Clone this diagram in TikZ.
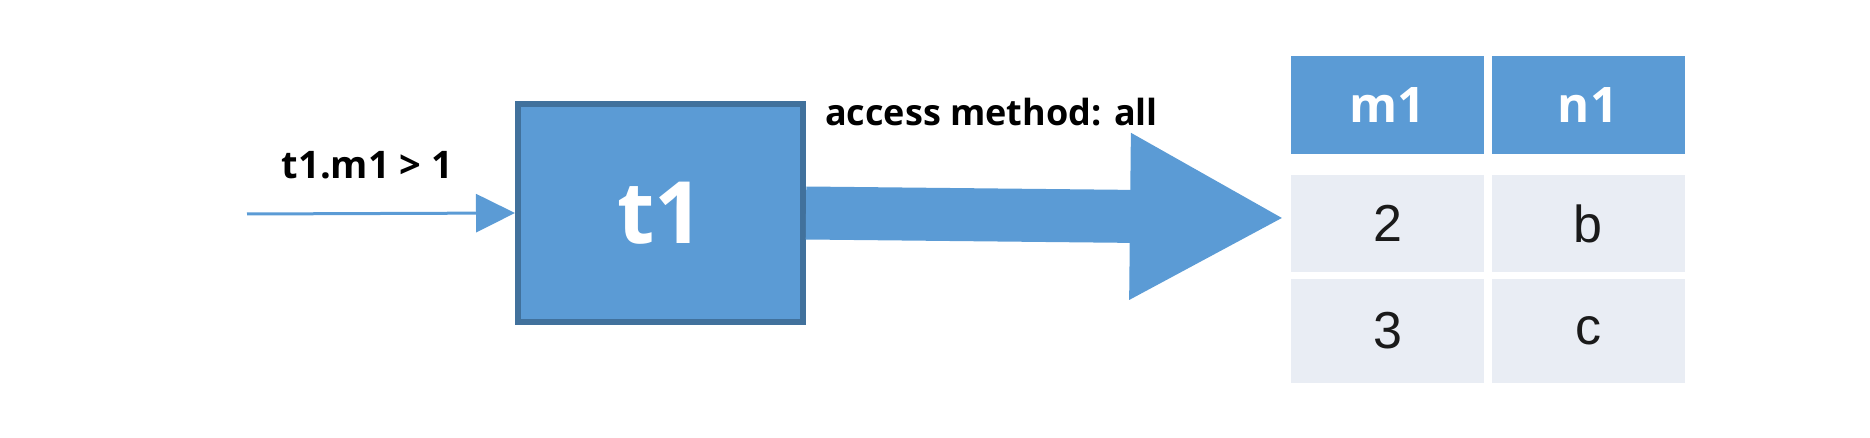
\documentclass[tikz,border=0pt]{standalone}
\usepackage{fontspec}
\setmainfont{Open Sans}
\newfontfamily\cellfont{Liberation Sans}
\usetikzlibrary{arrows.meta, positioning}
\definecolor{blu}{HTML}{5B9BD5}
\definecolor{bord}{HTML}{41719C}
\definecolor{pale}{HTML}{E9EDF4}
\definecolor{ink}{HTML}{1A1A1A}

\begin{document}
\begin{tikzpicture}[x=0.5pt, y=-0.5pt,
      tbox/.style={rectangle, draw=bord, fill=blu, line width=3pt,
                   minimum width=142.5pt, minimum height=109pt, text=white,
                   font=\bfseries\fontsize{43}{43}\selectfont},
      lbl/.style={inner sep=0pt, text=black, font=\bfseries\fontsize{18}{18}\selectfont},
      head/.style={rectangle, fill=blu, inner sep=0pt, minimum width=96.5pt,
                   minimum height=49pt, text=white,
                   font=\bfseries\fontsize{24.5}{24.5}\selectfont},
      cell/.style={rectangle, fill=pale, inner sep=0pt, minimum width=96.5pt,
                   text=ink, font=\cellfont\fontsize{26}{26}\selectfont}]
  \useasboundingbox (0,0) rectangle (1870,438);
  % scanned table
  \node[tbox] (t1) at (660.5,213) {t1};
  \coordinate (src) at (247,214);
  \draw[blu, line width=1.5pt, -{Triangle[length=19.5pt, width=19pt]}] (src) -- (t1.west);
  \node[lbl, anchor=base, font=\bfseries\fontsize{19}{19}\selectfont] (cond) at (367.5,179) {t1.m1 > 1};
  % access path into the result rows
  \coordinate (tip) at (1285,218);
  \draw[blu, line width=26.5pt, -{Triangle[length=77.5pt, width=77.5pt]}] (t1.east) -- (tip);
  \node[lbl, anchor=base] (acc) at (991.5,126) {access method: all};
  % result
  \foreach \c/\x/\lab in {m/1387.5/m1, n/1588/n1}
    \node[head] (h\c) at (\x,105) {\lab};
  \foreach \c/\x/\a/\b in {m/1387.5/2/3, n/1588/b/c} {
    \node[cell, minimum height=48.5pt] (r1\c) at (\x,223.5) {\a};
    \node[cell, minimum height=52pt] (r2\c) at (\x,331) {\b};
  }
\end{tikzpicture}
\end{document}
